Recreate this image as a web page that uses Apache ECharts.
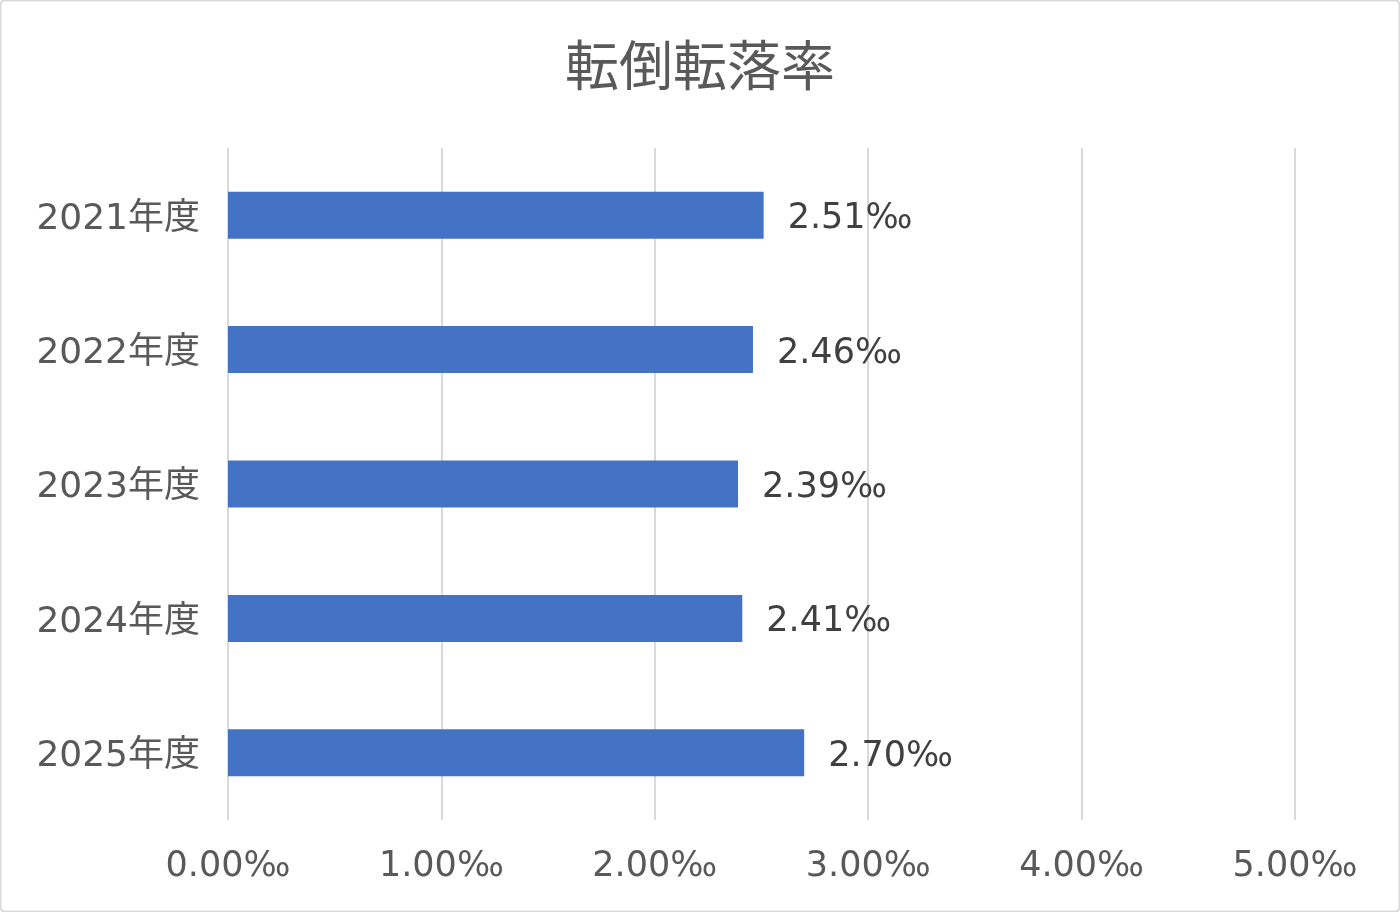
<!DOCTYPE html>
<html><head><meta charset="utf-8">
<script src="https://cdn.jsdelivr.net/npm/echarts@6/dist/echarts.min.js"></script>
<style>html,body{margin:0;padding:0;background:#fff}#c{width:1400px;height:912px}</style>
</head><body><div id="c"></div>
<script>
const categories = ['2021年度','2022年度','2023年度','2024年度','2025年度'];
const values = [2.51, 2.46, 2.39, 2.41, 2.70];
const xTicks = [0,1,2,3,4,5];
const title = '転倒転落率';
const FONT = '"Noto Sans CJK JP","Noto Sans",sans-serif';
const LFONT = '"DejaVu Sans","Noto Sans CJK JP",sans-serif';
const chart = echarts.init(document.getElementById('c'));
chart.setOption({
  animation:false,
  backgroundColor:'#fff',
  title:{text:title,left:'center',top:33,textStyle:{fontFamily:FONT,fontSize:54,fontWeight:'normal',color:'#595959'}},
  graphic:[{type:'rect',shape:{x:0.5,y:0.5,width:1399,height:911,r:4},style:{fill:'none',stroke:'#d9d9d9',lineWidth:2},silent:true}],
  grid:{left:228,right:105,top:148,bottom:92,containLabel:false},
  xAxis:{type:'value',min:xTicks[0],max:xTicks[xTicks.length-1],interval:1,
    axisLine:{show:false},axisTick:{show:false},
    splitLine:{show:true,lineStyle:{color:'#d9d9d9',width:2}},
    axisLabel:{margin:29,fontFamily:LFONT,fontSize:35,color:'#595959',formatter:v=>v.toFixed(2)+'‰'}},
  yAxis:{type:'category',data:categories,inverse:true,
    axisLine:{show:false},axisTick:{show:false},
    axisLabel:{margin:28,fontFamily:LFONT,fontSize:36,color:'#595959',
      formatter:v=>'{a|'+v+'}',
      rich:{a:{fontFamily:LFONT,fontSize:36,color:'#595959',padding:[8,0,0,0]}}}},
  series:[{type:'bar',data:values,barWidth:'35%',itemStyle:{color:'#4472C4'},
    label:{show:true,position:'right',distance:24,offset:[0,4],fontFamily:LFONT,fontSize:35,color:'#404040',formatter:p=>p.value.toFixed(2)+'‰'}}]
});
</script></body></html>
